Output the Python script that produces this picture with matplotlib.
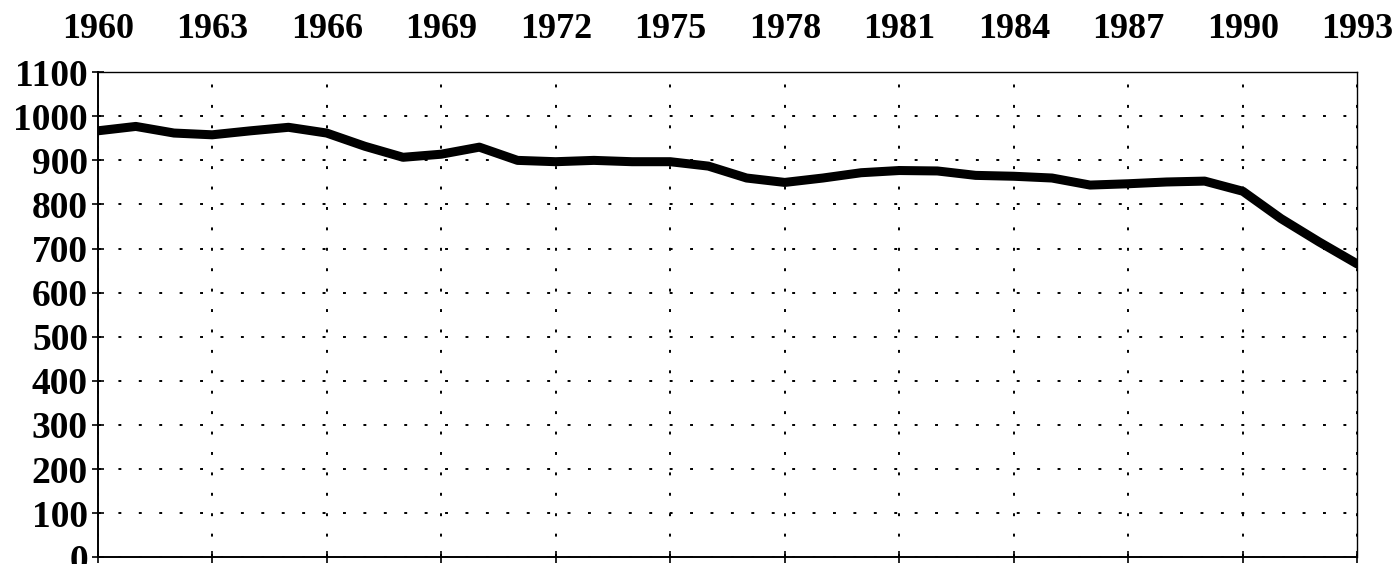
import matplotlib
matplotlib.use('Agg')
import matplotlib.pyplot as plt

# 数据
years = list(range(1960, 1994))
values = [967, 977, 962, 958, 967, 975, 962, 932, 907, 914,
          930, 900, 897, 900, 897, 897, 887, 860, 850, 860,
          872, 877, 876, 866, 864, 860, 844, 847, 851, 853,
          830, 768, 715, 665]
x_ticks = list(range(1960, 1994, 3))
y_ticks = list(range(0, 1101, 100))

plt.rcParams['font.family'] = ['Liberation Serif', 'DejaVu Serif']

fig = plt.figure(figsize=(13.95, 5.64), dpi=100)
ax = fig.add_axes([0.070, 0.012, 0.903, 0.860])

ax.plot(years, values, color='black', linewidth=6.5, solid_capstyle='round', solid_joinstyle='round')

ax.set_xlim(1960, 1993)
ax.set_ylim(0, 1100)
ax.set_xticks(x_ticks)
ax.set_yticks(y_ticks)
ax.set_xticklabels([str(x) for x in x_ticks], fontsize=26, fontweight='bold')
ax.set_yticklabels([str(y) for y in y_ticks], fontsize=27, fontweight='bold')

ax.tick_params(axis='x', top=False, bottom=True, labeltop=True, labelbottom=False,
               direction='inout', length=8, width=1.2, pad=15)
ax.tick_params(axis='y', direction='inout', length=8, width=1.2, pad=3)

ax.grid(True, color='black', linestyle=(0, (1.5, 9)), linewidth=1.4)

ax.spines['left'].set_linewidth(1.4)
ax.spines['bottom'].set_linewidth(1.4)
ax.spines['top'].set_linewidth(1.0)
ax.spines['right'].set_linewidth(1.0)

fig.savefig('out.png', dpi=100)
